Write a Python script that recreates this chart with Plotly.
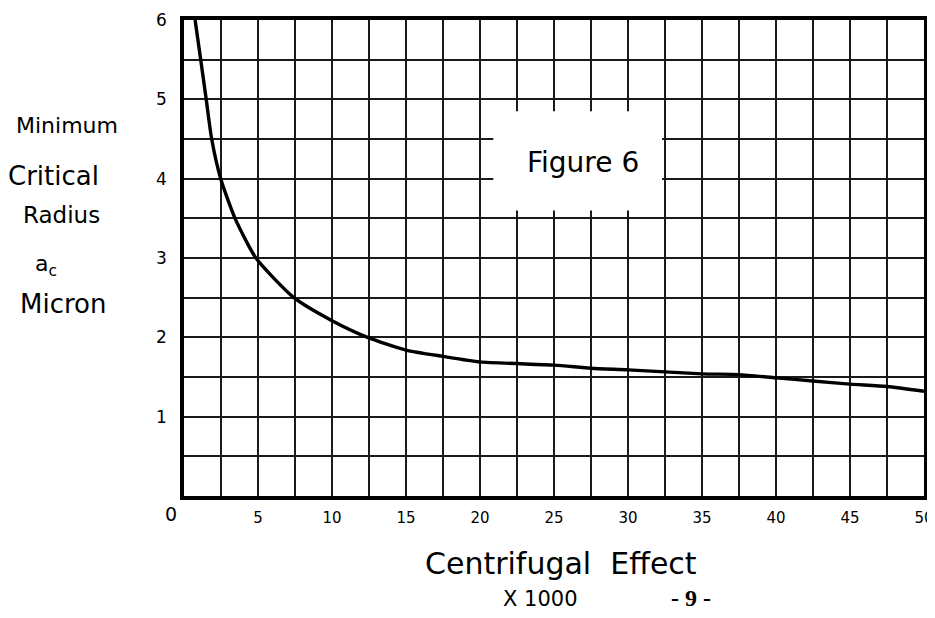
import plotly.graph_objects as go

# Data
effect_x1000 = [0.75, 1.13, 1.5, 1.87, 2.48, 3.45, 4.86, 7.43, 10.0, 12.4, 15.0, 17.5,
                20.0, 25.0, 27.5, 30.0, 35.0, 37.5, 40.0, 42.5, 45.0, 47.5, 50.0]
radius_micron = [6.0, 5.5, 5.0, 4.5, 4.0, 3.5, 3.0, 2.5, 2.21, 2.0, 1.84, 1.76,
                 1.69, 1.65, 1.61, 1.59, 1.54, 1.53, 1.49, 1.45, 1.41, 1.38, 1.32]
x_tickvals = [5, 10, 15, 20, 25, 30, 35, 40, 45, 50]
y_tickvals = [1, 2, 3, 4, 5, 6]
box_x = [20.9, 32.3]
box_y = [3.6, 4.85]

FONT = "DejaVu Sans"

fig = go.Figure()
fig.add_trace(go.Scatter(
    x=effect_x1000, y=radius_micron, mode="lines",
    line=dict(color="black", width=3.4, shape="spline", smoothing=0.6),
    hoverinfo="skip", showlegend=False,
))

fig.add_shape(type="rect", xref="x", yref="y",
              x0=box_x[0], x1=box_x[1], y0=box_y[0], y1=box_y[1],
              fillcolor="white", line=dict(width=0), layer="above")

fig.update_layout(
    width=919, height=602,
    margin=dict(l=176, r=3, t=12, b=114, autoexpand=False),
    paper_bgcolor="white", plot_bgcolor="white",
    font=dict(family=FONT, color="black", size=16),
    showlegend=False,
    xaxis=dict(range=[0, 50], tickvals=x_tickvals, ticks="", showgrid=True, automargin=False,
               gridcolor="#1a1a1a", gridwidth=1.8, zeroline=False,
               minor=dict(dtick=2.5, showgrid=True, gridcolor="#1a1a1a", gridwidth=1.8),
               showline=True, linecolor="black", linewidth=3.5, mirror=True,
               ticklabeloverflow="allow",
               tickfont=dict(family=FONT, size=15, color="black"), ticklabelstandoff=5),
    yaxis=dict(range=[0, 6], tickvals=y_tickvals, ticks="", showgrid=True, automargin=False,
               gridcolor="#1a1a1a", gridwidth=1.8, zeroline=False,
               minor=dict(dtick=0.5, showgrid=True, gridcolor="#1a1a1a", gridwidth=1.8),
               showline=True, linecolor="black", linewidth=3.5, mirror=True,
               ticklabeloverflow="allow",
               tickfont=dict(family=FONT, size=17, color="black"), ticklabelstandoff=10),
)

def pann(text, x, y, size=22, family=FONT, bold=False):
    fig.add_annotation(text=f"<b>{text}</b>" if bold else text, xref="paper", yref="paper",
                       x=x, y=y, xanchor="center", yanchor="middle", showarrow=False,
                       font=dict(family=family, size=size, color="black"))

pann("Minimum", -0.158, 0.779, size=22)
pann("Critical", -0.177, 0.672, size=26)
pann("Radius", -0.166, 0.590, size=23)
pann("a<sub>c</sub>", -0.186, 0.485, size=22)
pann("Micron", -0.164, 0.403, size=26)
pann("Centrifugal  Effect", 0.510, -0.141, size=30)
pann("X 1000", 0.482, -0.217, size=21)
pann("- 9 -", 0.685, -0.214, size=24, family="Liberation Serif", bold=True)
pann("0", -0.0176, -0.038, size=19)

fig.add_annotation(text="Figure 6", xref="x", yref="y", x=26.96, y=4.2,
                   showarrow=False, font=dict(family=FONT, size=28, color="black"))

fig.write_html("out.html")
